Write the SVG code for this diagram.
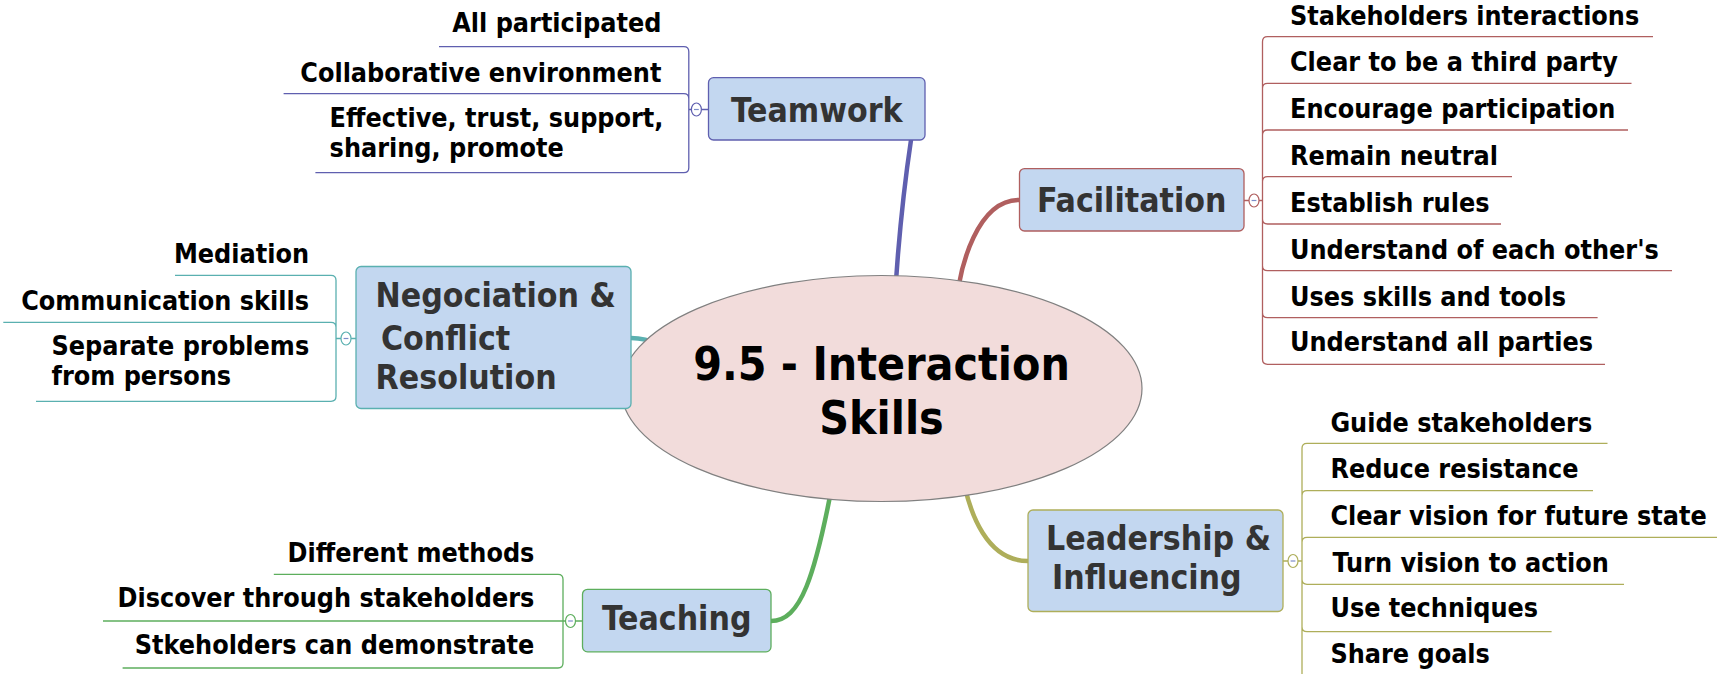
<svg xmlns="http://www.w3.org/2000/svg" width="1717" height="674" viewBox="0 0 1717 674">
<style>
text{font-family:"DejaVu Sans Condensed","DejaVu Sans","Liberation Sans",sans-serif;font-weight:bold;font-stretch:condensed}
.ch{font-size:26.7px;fill:#000}
.nd{font-size:33.5px;fill:#333}
.ct{font-size:46px;fill:#000;text-anchor:middle}
.box{fill:#C3D7F0;stroke-width:1.3}
.br{fill:none;stroke-width:1.3}
.tc{fill:#fff;stroke-width:1.2}
.mn{stroke:#7C8CC8;stroke-width:1.2}
.cn{fill:none;stroke-width:4.5;stroke-linecap:round}
</style>
<g id="connectors">
<path class="cn" stroke="#5F5FAF" d="M893 330 C897 250 905 180 911 140"/>
<path class="cn" stroke="#B05F5F" d="M955 320 C958 260 980 200 1019 200"/>
<path class="cn" stroke="#5AB0B0" d="M631 338 C650 338 665 345 700 370"/>
<path class="cn" stroke="#5DAE5D" d="M771 621 C800 621 815 580 835 470"/>
<path class="cn" stroke="#AEAE5A" d="M960 460 C968 520 990 561 1028 561"/>
</g>
<g id="center">
<ellipse cx="881.5" cy="388.5" rx="260.5" ry="113" fill="#F2DCDB" stroke="#808080" stroke-width="1.2"/>
<text class="ct" x="881.5" y="380">9.5 - Interaction</text>
<text class="ct" x="881.5" y="434">Skills</text>
</g>
<g id="teamwork">
<rect class="box" stroke="#5F5FAF" x="708.5" y="77.7" width="216.5" height="62.3" rx="5"/>
<text class="nd" x="816.8" y="121.5" text-anchor="middle">Teamwork</text>
<g stroke="#5F5FAF">
<path class="br" d="M708.5 109.5 H701.4 M691.4 109.5 H688.8 M688.8 109.5 V51.7 Q688.8 46.7 683.8 46.7 H439 M688.8 109.5 V98.7 Q688.8 93.7 683.8 93.7 H283.6 M688.8 109.5 V167.7 Q688.8 172.7 683.8 172.7 H315.4"/>
<ellipse class="tc" cx="696.4" cy="109.5" rx="5" ry="6.5"/>
</g>
<line class="mn" x1="694" y1="109.5" x2="698.8" y2="109.5"/>
<text class="ch" x="661.4" y="32.3" text-anchor="end">All participated</text>
<text class="ch" x="661.4" y="81.7" text-anchor="end">Collaborative environment</text>
<text class="ch" x="329.6" y="126.7">Effective, trust, support,</text>
<text class="ch" x="329.6" y="156.7">sharing, promote</text>
</g>
<g id="facilitation">
<rect class="box" stroke="#B05F5F" x="1019.5" y="168.6" width="224.5" height="62.4" rx="5"/>
<text class="nd" x="1131.7" y="212" text-anchor="middle">Facilitation</text>
<g stroke="#B05F5F">
<path class="br" d="M1244 200.5 H1249 M1259 200.5 H1262.5 M1262.5 200.5 V41.7 Q1262.5 36.7 1267.5 36.7 H1653 M1262.5 200.5 V88.3 Q1262.5 83.3 1267.5 83.3 H1631.5 M1262.5 200.5 V135 Q1262.5 130 1267.5 130 H1628 M1262.5 200.5 V181.7 Q1262.5 176.7 1267.5 176.7 H1512 M1262.5 200.5 V219 Q1262.5 224 1267.5 224 H1501 M1262.5 200.5 V265.7 Q1262.5 270.7 1267.5 270.7 H1672 M1262.5 200.5 V312.7 Q1262.5 317.7 1267.5 317.7 H1597.6 M1262.5 200.5 V359.3 Q1262.5 364.3 1267.5 364.3 H1605"/>
<ellipse class="tc" cx="1254" cy="200.5" rx="5" ry="6.5"/>
</g>
<line class="mn" x1="1251.6" y1="200.5" x2="1256.4" y2="200.5"/>
<text class="ch" x="1290" y="25">Stakeholders interactions</text>
<text class="ch" x="1290" y="71">Clear to be a third party</text>
<text class="ch" x="1290" y="117.5">Encourage participation</text>
<text class="ch" x="1290" y="165">Remain neutral</text>
<text class="ch" x="1290" y="212">Establish rules</text>
<text class="ch" x="1290" y="259">Understand of each other's</text>
<text class="ch" x="1290" y="305.5">Uses skills and tools</text>
<text class="ch" x="1290" y="351">Understand all parties</text>
</g>
<g id="negociation">
<rect class="box" stroke="#5AB0B0" x="356" y="266.5" width="275" height="142" rx="5"/>
<text class="nd" x="375.6" y="307.3">Negociation &amp;</text>
<text class="nd" x="381" y="350">Conflict</text>
<text class="nd" x="375.6" y="389.3">Resolution</text>
<g stroke="#5AB0B0">
<path class="br" d="M356 338.5 H351 M341 338.5 H336 M336 338.5 V280.3 Q336 275.3 331 275.3 H175 M336 338.5 V327.3 Q336 322.3 331 322.3 H3.3 M336 338.5 V396.3 Q336 401.3 331 401.3 H36"/>
<ellipse class="tc" cx="346" cy="338.5" rx="5" ry="6.5"/>
</g>
<line class="mn" x1="343.6" y1="338.5" x2="348.4" y2="338.5"/>
<text class="ch" x="309" y="263.3" text-anchor="end">Mediation</text>
<text class="ch" x="309" y="310" text-anchor="end">Communication skills</text>
<text class="ch" x="51.5" y="355">Separate problems</text>
<text class="ch" x="51.5" y="385">from persons</text>
</g>
<g id="teaching">
<rect class="box" stroke="#5DAE5D" x="582.5" y="589.3" width="188.5" height="62.5" rx="5"/>
<text class="nd" x="676.7" y="630" text-anchor="middle">Teaching</text>
<g stroke="#5DAE5D">
<path class="br" d="M582.5 621 H575.5 M565.5 621 H103 M563 621 V579.3 Q563 574.3 558 574.3 H273.8 M563 621 V663 Q563 668 558 668 H122.6"/>
<ellipse class="tc" cx="570.5" cy="621" rx="5" ry="6.5"/>
</g>
<line class="mn" x1="568.1" y1="621" x2="572.9" y2="621"/>
<text class="ch" x="534.4" y="561.7" text-anchor="end">Different methods</text>
<text class="ch" x="534.4" y="606.7" text-anchor="end">Discover through stakeholders</text>
<text class="ch" x="534.4" y="654" text-anchor="end">Stkeholders can demonstrate</text>
</g>
<g id="leadership">
<rect class="box" stroke="#AEAE5A" x="1028" y="510" width="255" height="101.5" rx="5"/>
<text class="nd" x="1046" y="550">Leadership &amp;</text>
<text class="nd" x="1052" y="589.3">Influencing</text>
<g stroke="#AEAE5A">
<path class="br" d="M1283 561 H1288 M1298 561 H1302 M1302 561 V448.3 Q1302 443.3 1307 443.3 H1607.5 M1302 561 V495.7 Q1302 490.7 1307 490.7 H1593 M1302 561 V542.3 Q1302 537.3 1307 537.3 H1720 M1302 561 V579.3 Q1302 584.3 1307 584.3 H1624 M1302 561 V626.7 Q1302 631.7 1307 631.7 H1551.6 M1302 561 V674"/>
<ellipse class="tc" cx="1293" cy="561" rx="5" ry="6.5"/>
</g>
<line class="mn" x1="1290.6" y1="561" x2="1295.4" y2="561"/>
<text class="ch" x="1330.4" y="431.7">Guide stakeholders</text>
<text class="ch" x="1330.4" y="478.3">Reduce resistance</text>
<text class="ch" x="1330.4" y="525">Clear vision for future state</text>
<text class="ch" x="1332.6" y="571.7">Turn vision to action</text>
<text class="ch" x="1330.4" y="616.7">Use techniques</text>
<text class="ch" x="1330.4" y="663.3">Share goals</text>
</g>
</svg>
